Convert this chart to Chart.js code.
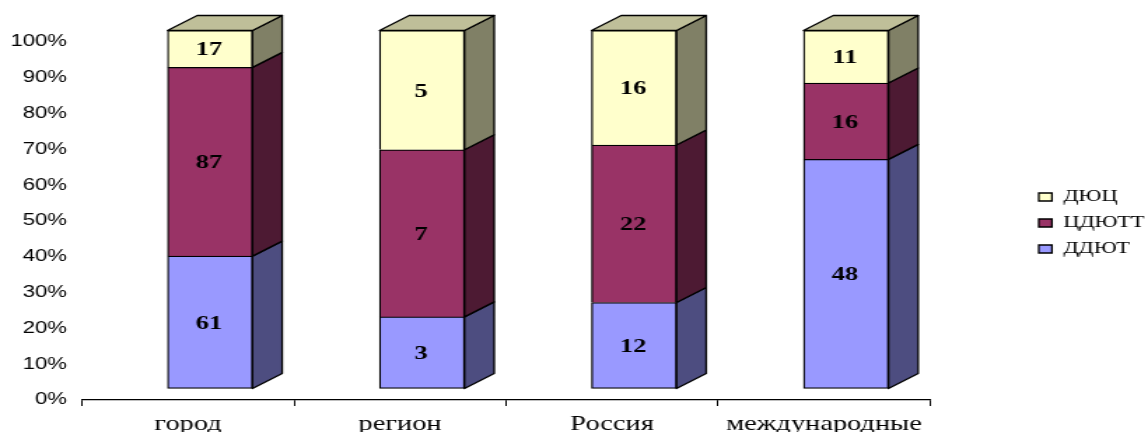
<!DOCTYPE html>
<html>
<head>
<meta charset="utf-8">
<title>chart</title>
<script src="https://cdn.jsdelivr.net/npm/chart.js@4"></script>
<style>
    html, body { margin: 0; padding: 0; background: #fff; overflow: hidden; }
    /* исходная картинка растянута по ширине, поэтому холст тоже растягиваем */
    #chart { display: block; transform: scaleX(1.4); transform-origin: 0 0; }
</style>
</head>
<body>
<canvas id="chart" width="818" height="432"></canvas>
<script>
const categories = ['город', 'регион', 'Россия', 'международные'];
const ddyut = [61, 3, 12, 48];
const cdyutt = [87, 7, 22, 16];
const dyuc = [17, 5, 16, 11];

// доля в процентах по каждой категории (график 100%)
const percent = (values, i) => values[i] * 100 / (ddyut[i] + cdyutt[i] + dyuc[i]);
const toPercent = values => values.map((v, i) => percent(values, i));

const SHIFT_X = 15.7, SHIFT_Y = -11.5; // передняя грань смещена от оси
const DEPTH_X = 21.2, DEPTH_Y = 15;

const face = (ctx, pts, color) => {
    ctx.beginPath();
    pts.forEach((p, i) => i ? ctx.lineTo(p[0], p[1]) : ctx.moveTo(p[0], p[1]));
    ctx.closePath();
    ctx.fillStyle = color;
    ctx.fill();
    ctx.lineWidth = 1.3;
    ctx.strokeStyle = '#000';
    ctx.lineJoin = 'round';
    ctx.stroke();
};

const bars3d = {
    id: 'bars3d',
    afterLayout(chart) {
        // легенда стоит справа от области графика, место под неё задано в padding
        const legend = chart.legend;
        legend.left = 732;
        legend.right = 818;
        legend.top = 179;
        legend.bottom = 273;
        legend.width = 86;
        legend.height = 94;
        legend.adjustHitBoxes();
    },
    beforeDatasetsDraw(chart) {
        const ctx = chart.ctx;
        ctx.save();
        ctx.translate(SHIFT_X, SHIFT_Y);
        chart.data.datasets.forEach((ds, d) => {
            chart.getDatasetMeta(d).data.forEach(el => {
                const l = el.x - el.width / 2, r = el.x + el.width / 2;
                face(ctx, [[r, el.y], [r + DEPTH_X, el.y - DEPTH_Y], [r + DEPTH_X, el.base - DEPTH_Y], [r, el.base]], ds.sideColor);
                if (d === chart.data.datasets.length - 1) {
                    face(ctx, [[l, el.y], [l + DEPTH_X, el.y - DEPTH_Y], [r + DEPTH_X, el.y - DEPTH_Y], [r, el.y]], ds.topColor);
                }
            });
        });
    },
    afterDatasetsDraw(chart) {
        const ctx = chart.ctx;
        ctx.font = 'bold 19px "Liberation Serif"';
        ctx.fillStyle = '#000';
        ctx.textAlign = 'center';
        ctx.textBaseline = 'middle';
        chart.data.datasets.forEach((ds, d) => {
            chart.getDatasetMeta(d).data.forEach((el, i) => {
                ctx.fillText(ds.counts[i], el.x - 0.7, (el.y + el.base) / 2 + 1.5);
            });
        });
        ctx.restore();
    }
};

new Chart(document.getElementById('chart'), {
    type: 'bar',
    data: {
        labels: categories,
        datasets: [
            { label: 'ДДЮТ', counts: ddyut, data: toPercent(ddyut), backgroundColor: '#9999FF', sideColor: '#4D4D80', borderSkipped: false },
            { label: 'ЦДЮТТ', counts: cdyutt, data: toPercent(cdyutt), backgroundColor: '#993366', sideColor: '#4D1A33', borderSkipped: 'bottom' },
            { label: 'ДЮЦ', counts: dyuc, data: toPercent(dyuc), backgroundColor: '#FFFFCC', sideColor: '#808066', topColor: '#BFBF99', borderSkipped: 'bottom' }
        ].map(ds => ({ ...ds, borderColor: '#000', borderWidth: 1.3, barThickness: 60.7, clip: false }))
    },
    options: {
        responsive: false,
        animation: false,
        layout: { padding: { top: 42, right: 153.7, bottom: 0, left: 0 } },
        scales: {
            x: {
                stacked: true,
                afterFit: scale => { scale.height = 32; },
                border: { color: '#000', width: 1.2 },
                grid: { drawOnChartArea: false, color: '#000', tickLength: 6, lineWidth: 1 },
                ticks: { color: '#000', padding: 6, maxRotation: 0, autoSkip: false, font: { family: 'Liberation Serif', size: 20.3 } }
            },
            y: {
                stacked: true,
                min: 0,
                max: 100,
                afterFit: scale => { scale.width = 58.6; },
                border: { display: false },
                grid: { display: false, drawTicks: false },
                ticks: { stepSize: 10, color: '#000', padding: 10.7, callback: v => v + '%', font: { family: 'Liberation Sans', size: 15.8 } }
            }
        },
        plugins: {
            tooltip: { enabled: false },
            legend: {
                position: 'chartArea',
                align: 'start',
                reverse: true,
                labels: { color: '#000', boxWidth: 9.4, boxHeight: 8, padding: 10, font: { family: 'Liberation Serif', size: 16 } }
            }
        }
    },
    plugins: [bars3d]
});
</script>
</body>
</html>
